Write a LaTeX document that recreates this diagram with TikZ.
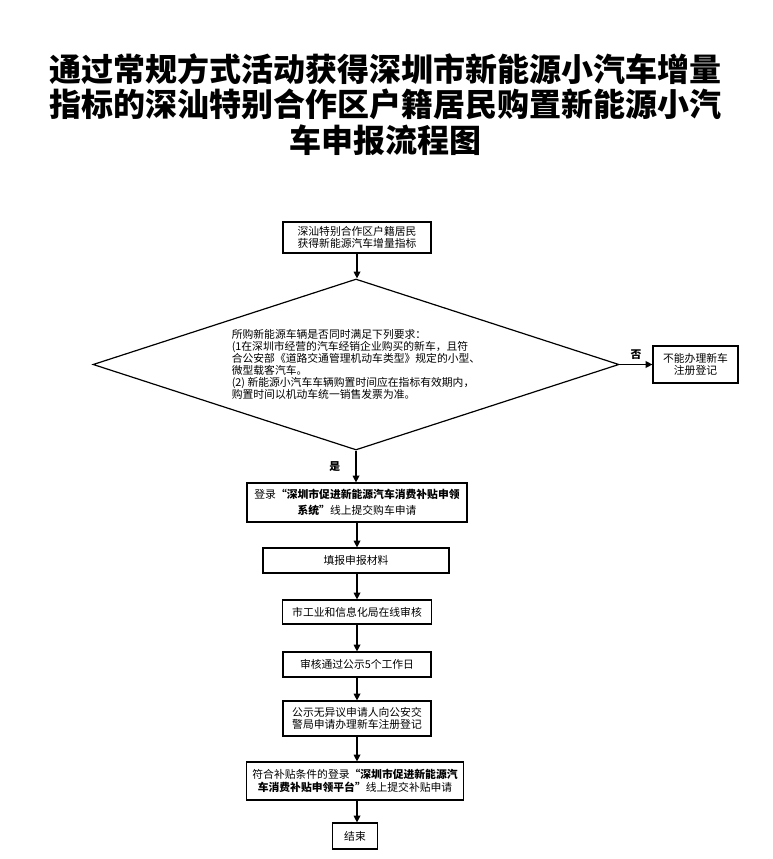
\documentclass[tikz,border=0pt]{standalone}
\usepackage{fontspec}
\newfontfamily\cjk{Noto Sans CJK SC}
\usetikzlibrary{positioning,shapes.geometric,arrows.meta}

\begin{document}
\begin{tikzpicture}[
  x=0.75pt, y=-0.75pt,
  nd/.style={rectangle, draw=black, line width=0.9pt, fill=white, inner sep=1pt,
    align=center, font=\cjk\fontsize{8.1}{9}\selectfont},
  ndq/.style={diamond, draw=black, line width=0.9pt, aspect=3.08, inner sep=0pt,
    minimum width=394.5pt, minimum height=128.25pt, align=left,
    font=\cjk\fontsize{8.1}{9}\selectfont},
  yn/.style={font=\cjk\bfseries\fontsize{8.1}{9}\selectfont},
  flow/.style={-{Triangle[length=5pt,width=5pt]}, line width=0.9pt},
]
\useasboundingbox (0,0) rectangle (772,859);

% --- Title ---
\node[align=center, font=\cjk\bfseries\fontsize{24}{26.5}\selectfont] (title) at (385,104.5)
  {通过常规方式活动获得深圳市新能源小汽车增量\\指标的深汕特别合作区户籍居民购置新能源小汽\\车申报流程图};

% --- Steps ---
\node[nd, minimum width=111pt, minimum height=23.25pt] (start) at (357,237.5)
  {深汕特别合作区户籍居民\\获得新能源汽车增量指标};
\node[ndq] (check) at (356,364.5)
  {所购新能源车辆是否同时满足下列要求：\\
   (1在深圳市经营的汽车经销企业购买的新车，且符\\
   合公安部《道路交通管理机动车类型》规定的小型、\\
   微型载客汽车。\\
   (2) 新能源小汽车车辆购置时间应在指标有效期内，\\
   购置时间以机动车统一销售发票为准。};
\node[nd, minimum width=63.75pt, minimum height=27.75pt] (refuse) at (695.5,364.5)
  {不能办理新车\\注册登记};
\node[nd, minimum width=165pt, minimum height=29.25pt,
  font=\cjk\fontsize{8.1}{12.5}\selectfont] (login) at (357,502.5)
  {登录{\bfseries “深圳市促进新能源汽车消费补贴申领}\\{\bfseries 系统”}线上提交购车申请};
\node[nd, minimum width=139.5pt, minimum height=18.75pt] (fill) at (356,560.5)
  {填报申报材料};
\node[nd, minimum width=111.75pt, minimum height=18pt] (audit) at (357,612)
  {市工业和信息化局在线审核};
\node[nd, minimum width=111pt, minimum height=18.75pt] (notice) at (357,664.5)
  {审核通过公示5个工作日};
\node[nd, minimum width=111pt, minimum height=26.25pt] (police) at (357,718.5)
  {公示无异议申请人向公安交\\警局申请办理新车注册登记};
\node[nd, minimum width=162.75pt, minimum height=28.5pt,
  font=\cjk\fontsize{8.1}{9.8}\selectfont] (subsidy) at (355,781)
  {符合补贴条件的登录{\bfseries “深圳市促进新能源汽}\\{\bfseries 车消费补贴申领平台”}线上提交补贴申请};
\node[nd, minimum width=33.75pt, minimum height=19.5pt] (finish) at (355,836)
  {结束};

% --- Connectors ---
\draw[flow] (start.south) -- (start.south |- check.north);
\draw[flow] (check.east) -- node[yn, above, pos=0.5] {否} (refuse.west);
\draw[flow] (check.south) -- node[yn, left=8pt, pos=0.5] {是} (check.south |- login.north);
\draw[flow] (login.south) -- (login.south |- fill.north);
\draw[flow] (fill.south -| audit.south) -- (audit.north);
\draw[flow] (audit.south) -- (notice.north);
\draw[flow] (notice.south) -- (police.north);
\draw[flow] (police.south) -- (police.south |- subsidy.north);
\draw[flow] (police.south |- subsidy.south) -- (police.south |- finish.north);
\end{tikzpicture}
\end{document}
